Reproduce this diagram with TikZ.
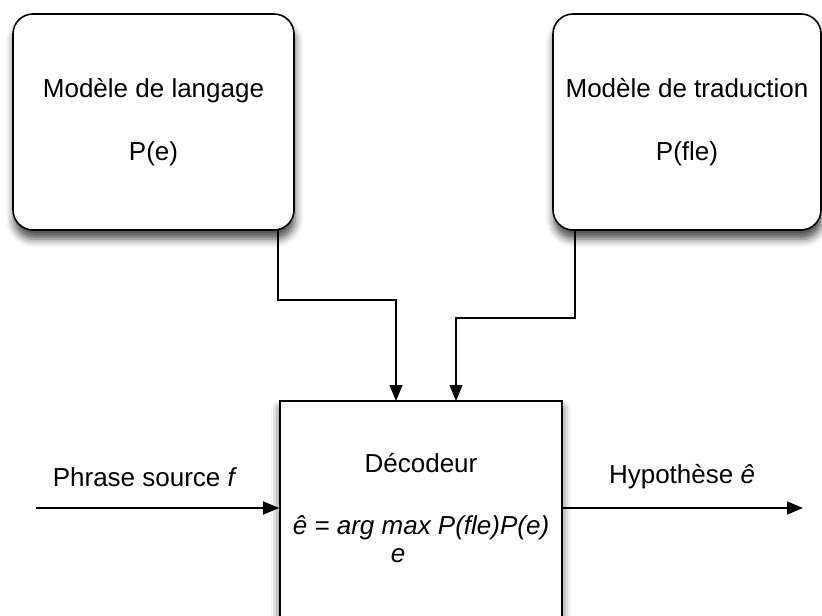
\documentclass[tikz,border=0pt]{standalone}
\usepackage{fontspec}
\setmainfont{Liberation Sans}
\usetikzlibrary{arrows.meta,positioning,shadows.blur}
\tikzset
{
    modelbox/.style   = {rectangle, rounded corners=10pt, draw=black, line width=0.8pt, fill=white, align=center, minimum width=140.5pt, minimum height=108pt, font=\fontsize{13}{31.5}\selectfont, blur shadow={shadow xshift=0.5pt, shadow yshift=-4.5pt, shadow blur radius=4pt, shadow opacity=70}},
    decoderbox/.style = {rectangle, draw=black, line width=0.8pt, fill=white, minimum width=141pt, minimum height=150pt, blur shadow={shadow xshift=0pt, shadow yshift=-4pt, shadow blur radius=4.5pt, shadow opacity=70}},
    txt/.style        = {inner sep=0pt, font=\fontsize{13}{15}\selectfont}
}

\begin{document}
\begin{tikzpicture}[->, >={Triangle[length=8pt,width=6.5pt]}, line width=0.6pt, x=0.5pt, y=-0.5pt]
\clip (0,0) rectangle (822,615);
\node [modelbox] at (153.5,122) (lm) {Modèle de langage\\P(e)};
\node [modelbox, minimum width=134pt] at (687,122) (tm) {Modèle de traduction\\P(fle)};
\node [decoderbox] at (421,551) (dec) {};
\node [txt] at (421,463) (dectitle) {Décodeur};
\node [txt] at (421,528) (decformula) {\itshape ê = arg max P(fle)P(e)};
\node [txt] at (398,556) (decarg) {\itshape e};
\node [txt] at (145,477) (srclabel) {Phrase source \textit{f}};
\node [txt] at (682,477) (hyplabel) {Hypothèse \textit{ê}};
\coordinate (lmout) at (278,230);
\coordinate (lmin) at (396,401);
\coordinate (tmout) at (575,230);
\coordinate (tmin) at (456,401);
\coordinate (src) at (36,508);
\coordinate (hyp) at (803,508);
\draw (lmout) -- ++(0,70) -| (lmin);
\draw (tmout) -- ++(0,88) -| (tmin);
\draw (src) -- (src -| dec.west);
\draw (dec.east |- hyp) -- (hyp);
\end{tikzpicture}
\end{document}
